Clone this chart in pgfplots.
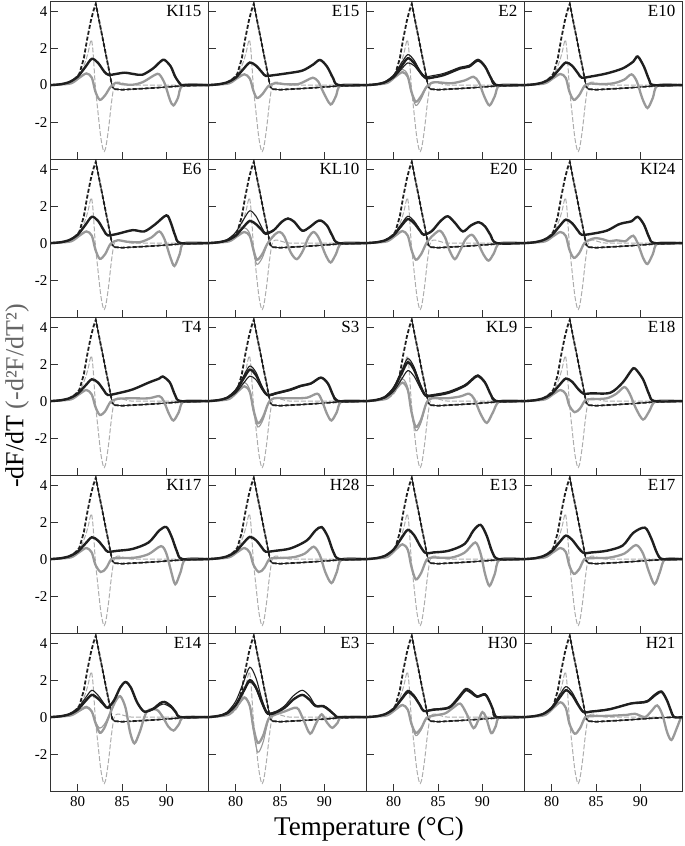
\documentclass[border=0pt]{standalone}
\usepackage{fontspec}
\setmainfont{Liberation Serif}
\usepackage{pgfplots}
\usepackage{pgfplotstable}
\pgfplotsset{compat=1.18}
\usepgfplotslibrary{groupplots}
\usetikzlibrary{calc}

% reference melt curve (dashed) and its second derivative, same in every panel
\pgfplotstableread{
x y
77 0
78 0.04
78.5 0.08
79 0.14
79.5 0.27
80 0.48
80.2 0.62
80.7 1.45
81.1 2.55
81.5 3.5
81.8 4.05
82.05 4.4
82.5 3.3
83 2.1
83.5 0.9
83.9 -0.1
84.2 -0.22
85 -0.25
87 -0.2
89 -0.14
91 -0.07
93 -0.02
94.8 0
}\refF
\pgfplotstableread{
x y
82.05 4.4
82.5 3.3
83 2.1
83.5 0.9
83.9 -0.1
84.2 -0.22
85 -0.25
87 -0.2
89 -0.14
91 -0.07
93 -0.02
94.8 0
}\refFdrop
\pgfplotstableread{
x y
77 0
78 0.03
79 0.1
79.5 0.2
80 0.38
80.5 0.8
80.9 1.3
81.2 1.8
81.4 2.25
81.55 2.45
81.7 2.0
81.85 1.0
82.0 -0.1
82.3 -1.5
82.6 -2.8
82.85 -3.45
83.0 -3.6
83.2 -3.3
83.5 -2.3
83.8 -1.0
84.1 -0.05
84.4 0.15
84.8 0.15
85.5 0.05
86.5 0
94.8 0
}\refD

\newcommand{\refs}{%
  \addplot[refG] table {\refD};
  \addplot[refB] table {\refF};
  \addplot[refBthin] table {\refFdrop};
}
\newcommand{\lab}[1]{\node[anchor=north east, inner sep=2pt,
  font=\fontsize{17}{17}\selectfont] at (rel axis cs:0.965,0.985) {#1};}

\begin{document}
\begin{tikzpicture}
\pgfplotsset{
  blk/.style={black!88, line width=2.4pt, smooth},
  blkthin/.style={black!88, line width=1.1pt, smooth},
  gry/.style={black!40, line width=2.3pt, smooth},
  grythin/.style={black!40, line width=1.1pt, smooth},
  refB/.style={black!88, line width=1.8pt, dash pattern=on 4pt off 2pt},
  refBthin/.style={black!88, line width=0.9pt},
  refG/.style={black!32, line width=1.0pt, dash pattern=on 5pt off 2pt, smooth},
}
\begin{groupplot}[
  group style={group size=4 by 5, horizontal sep=0pt, vertical sep=0pt,
    xticklabels at=edge bottom, yticklabels at=edge left},
  width=158pt, height=158pt, scale only axis,
  xmin=77, xmax=94.8, ymin=-4, ymax=4.55,
  xtick={80,85,90}, ytick={-2,0,2,4},
  xtick pos=bottom, ytick pos=left, tick align=inside,
  major tick length=7pt,
  axis line style={black!80, line width=1pt},
  tick style={black!80, line width=1pt},
  /pgf/number format/assume math mode=true,
  ticklabel style={font=\fontsize{15}{15}\selectfont},
  xticklabel style={yshift=-2pt},
]
% ---------- row 1
\nextgroupplot
\refs
\addplot[gry] coordinates {(77,0) (78,0.03) (79.3,0.1) (80.2,0.4) (81,0.63) (81.6,0.4) (82,-0.35) (82.5,-0.8) (83.1,-0.55) (83.7,-0.1) (84.3,0.12) (85,0.05) (86.2,0.02) (87.3,0.15) (88.7,0.55) (89.2,0.58) (89.8,0.1) (90.4,-0.8) (90.8,-1.1) (91.3,-0.7) (91.9,0) (94.8,0)};
\addplot[blk] coordinates {(77,0) (78,0.04) (79,0.15) (80,0.45) (80.9,1.0) (81.6,1.42) (82.3,1.2) (83,0.73) (83.5,0.55) (84.3,0.6) (85.3,0.67) (86.3,0.6) (87.3,0.56) (88.5,0.9) (89.4,1.3) (89.8,1.36) (90.5,1.0) (91,0.45) (91.6,0.04) (92,0) (94.8,0)};
\lab{KI15}

\nextgroupplot
\refs
\addplot[gry] coordinates {(77,0) (78,0.03) (79.3,0.1) (80.2,0.38) (81,0.58) (81.6,0.35) (82,-0.3) (82.4,-0.7) (83,-0.5) (83.7,-0.05) (84.5,0.1) (85.5,0.05) (87,0.05) (88,0.25) (88.7,0.4) (89.3,0.2) (89.9,-0.4) (90.7,-1.05) (91.3,-0.6) (91.9,0) (94.8,0)};
\addplot[blk] coordinates {(77,0) (78,0.04) (79,0.14) (80,0.4) (80.9,0.88) (81.6,1.22) (82.3,1.05) (83,0.68) (83.4,0.5) (84.5,0.55) (85.7,0.63) (87.5,0.78) (88.7,1.1) (89.5,1.36) (90.3,1.0) (91,0.36) (91.6,0) (94.8,0)};
\lab{E15}

\nextgroupplot
\refs
\addplot[gry] coordinates {(77,0) (78,0.03) (79.3,0.12) (80.2,0.45) (81,0.7) (81.6,0.45) (82,-0.35) (82.5,-0.9) (83.1,-0.6) (83.7,-0.1) (84.3,0.12) (85,0.15) (86.5,0.1) (88,0.25) (89,0.45) (89.6,0.15) (90.2,-0.6) (90.8,-1.1) (91.4,-0.6) (92,0) (94.8,0)};
\addplot[grythin] coordinates {(77,0) (78,0.03) (79.3,0.14) (80.2,0.55) (81,0.85) (81.6,0.55) (82,-0.4) (82.5,-1.1) (83.1,-0.75) (83.7,-0.1) (84.3,0.15) (85,0.15)};
\addplot[blk] coordinates {(77,0) (78,0.04) (79,0.15) (80,0.47) (80.9,1.03) (81.6,1.45) (82.3,1.2) (83,0.7) (83.6,0.38) (84.5,0.42) (85.7,0.55) (87.5,0.9) (88.5,1.0) (89.5,1.33) (90.3,1.0) (91,0.35) (91.6,0) (94.8,0)};
\addplot[blkthin] coordinates {(77,0) (78,0.05) (79,0.17) (80,0.55) (80.9,1.2) (81.6,1.65) (82.3,1.35) (83,0.75) (83.6,0.47) (84.5,0.52) (85.7,0.64) (87.5,0.97) (88.5,1.07) (89.5,1.4) (90.3,1.05) (91,0.38) (91.6,0)};
\addplot[blkthin] coordinates {(77,0) (78,0.04) (79,0.13) (80,0.4) (80.9,0.88) (81.6,1.2) (82.3,1.05) (83,0.65) (83.6,0.38) (84.5,0.4)};
\lab{E2}

\nextgroupplot
\refs
\addplot[gry] coordinates {(77,0) (78,0.03) (79.3,0.1) (80.2,0.38) (81,0.6) (81.6,0.38) (82,-0.35) (82.5,-0.8) (83.1,-0.55) (83.7,-0.05) (84.3,0.08) (85.5,0.05) (87,0.1) (88.2,0.3) (89,0.58) (89.6,0.2) (90.2,-0.7) (90.8,-1.24) (91.4,-0.7) (92,0) (94.8,0)};
\addplot[blk] coordinates {(77,0) (78,0.04) (79,0.14) (80,0.4) (80.9,0.88) (81.6,1.22) (82.3,1.05) (83,0.62) (83.4,0.4) (84.5,0.47) (86.2,0.63) (88,0.9) (89.2,1.27) (89.7,1.55) (90.4,1.0) (91,0.27) (91.5,0) (94.8,0)};
\lab{E10}

% ---------- row 2
\nextgroupplot
\refs
\addplot[gry] coordinates {(77,0) (78,0.03) (79.3,0.1) (80.2,0.4) (81,0.63) (81.6,0.4) (82,-0.35) (82.5,-0.85) (83.1,-0.6) (83.7,-0.05) (84.5,0.15) (85.5,0.08) (87,0.05) (88.3,0.3) (89.2,0.63) (89.8,0.2) (90.4,-0.7) (90.9,-1.24) (91.5,-0.6) (92,0) (94.8,0)};
\addplot[blk] coordinates {(77,0) (78,0.04) (79,0.15) (80,0.45) (80.9,1.0) (81.6,1.42) (82.3,1.2) (83,0.65) (83.4,0.42) (84.5,0.5) (86.2,0.7) (87.5,0.63) (88.7,1.0) (90,1.5) (90.5,1.1) (91,0.4) (91.6,0) (94.8,0)};
\lab{E6}

\nextgroupplot
\refs
\addplot[gry] coordinates {(77,0) (78,0.03) (79.3,0.1) (80.2,0.38) (81,0.6) (81.6,0.38) (82,-0.35) (82.4,-0.9) (83,-0.6) (83.5,-0.1) (83.9,0.18) (84.5,0.5) (85,0.6) (85.5,0.35) (86.2,-0.5) (86.9,-0.87) (87.6,-0.4) (88.2,0.3) (88.8,0.6) (89.4,0.25) (90.1,-0.6) (90.7,-1.05) (91.3,-0.6) (92,0) (94.8,0)};
\addplot[grythin] coordinates {(77,0) (78,0.03) (79.3,0.14) (80.2,0.55) (81,0.82) (81.6,0.5) (82,-0.45) (82.4,-1.15) (83,-0.8) (83.5,-0.15) (83.9,0.18) (84.5,0.5)};
\addplot[blk] coordinates {(77,0) (78,0.04) (79,0.14) (80,0.4) (80.9,0.88) (81.6,1.2) (82.3,1.02) (83,0.68) (83.4,0.5) (84.3,0.7) (85.2,1.15) (85.9,1.33) (86.6,1.15) (87.5,0.67) (88.3,0.85) (89.1,1.15) (89.6,1.22) (90.3,0.95) (90.9,0.4) (91.6,0) (94.8,0)};
\addplot[blkthin] coordinates {(77,0) (78,0.05) (79,0.18) (80,0.58) (80.9,1.28) (81.6,1.75) (82.3,1.45) (83,0.8) (83.4,0.55) (84.3,0.72)};
\lab{KL10}

\nextgroupplot
\refs
\addplot[gry] coordinates {(77,0) (78,0.03) (79.3,0.1) (80.2,0.4) (81,0.65) (81.6,0.4) (82,-0.35) (82.5,-0.9) (83.1,-0.6) (83.7,0.0) (84.4,0.4) (85.2,0.67) (85.8,0.3) (86.3,-0.4) (86.9,-0.87) (87.5,-0.4) (88.1,0.2) (88.8,0.45) (89.4,0.1) (90.1,-0.6) (90.7,-0.95) (91.3,-0.55) (92,0) (94.8,0)};
\addplot[blk] coordinates {(77,0) (78,0.04) (79,0.14) (80,0.43) (80.9,0.95) (81.6,1.3) (82.3,1.08) (83,0.65) (83.4,0.45) (84.3,0.65) (85.3,1.2) (86.1,1.45) (86.9,1.1) (87.8,0.63) (88.7,0.95) (89.6,1.13) (90.3,0.9) (90.9,0.45) (91.6,0) (94.8,0)};
\addplot[blkthin] coordinates {(77,0) (78,0.04) (79,0.16) (80,0.48) (80.9,1.05) (81.6,1.45) (82.3,1.2) (83,0.7) (83.4,0.48) (84,0.55)};
\lab{E20}

\nextgroupplot
\refs
\addplot[gry] coordinates {(77,0) (78,0.03) (79.3,0.1) (80.2,0.38) (81,0.6) (81.6,0.38) (82,-0.35) (82.5,-0.8) (83.1,-0.55) (83.7,0.0) (84.4,0.2) (85,0.27) (85.8,0.2) (86.5,0.1) (87.3,0.15) (88.3,0.1) (88.7,0.25) (89.2,0.4) (89.7,0.0) (90.3,-0.8) (90.8,-1.13) (91.4,-0.6) (92,0) (94.8,0)};
\addplot[blk] coordinates {(77,0) (78,0.04) (79,0.15) (80,0.42) (80.9,0.92) (81.6,1.27) (82.3,1.08) (83,0.65) (83.4,0.45) (84.5,0.5) (86.2,0.67) (87.5,1.0) (88.2,1.1) (89,1.18) (89.7,1.42) (90.4,1.0) (91,0.3) (91.6,0) (94.8,0)};
\lab{KI24}

% ---------- row 3
\nextgroupplot
\refs
\addplot[gry] coordinates {(77,0) (78,0.03) (79.3,0.1) (80.2,0.38) (81,0.6) (81.6,0.35) (82,-0.3) (82.5,-0.75) (83.1,-0.55) (83.7,-0.05) (84.5,0.12) (86,0.15) (88,0.15) (89.2,0.27) (89.7,0.0) (90.3,-0.7) (90.8,-1.05) (91.4,-0.6) (92,0) (94.8,0)};
\addplot[blk] coordinates {(77,0) (78,0.04) (79,0.14) (80,0.4) (80.9,0.85) (81.6,1.18) (82.3,1.0) (83,0.55) (83.4,0.33) (84.5,0.42) (86.2,0.63) (88,1.0) (89.2,1.22) (89.6,1.33) (90.4,1.0) (91,0.3) (91.6,0) (94.8,0)};
\lab{T4}

\nextgroupplot
\refs
\addplot[gry] coordinates {(77,0) (78,0.03) (79.3,0.12) (80.2,0.5) (81,0.8) (81.6,0.5) (82,-0.45) (82.5,-1.2) (83.1,-0.85) (83.7,-0.1) (84.3,0.15) (86,0.15) (88,0.18) (89.2,0.4) (89.7,0.05) (90.3,-0.7) (90.8,-1.05) (91.4,-0.6) (92,0) (94.8,0)};
\addplot[grythin] coordinates {(77,0) (78,0.04) (79.3,0.15) (80.2,0.62) (81,1.0) (81.6,0.6) (82,-0.55) (82.5,-1.4) (83.1,-1.0) (83.7,-0.1) (84.3,0.15)};
\addplot[blk] coordinates {(77,0) (78,0.05) (79,0.17) (80,0.55) (80.9,1.22) (81.6,1.7) (82.3,1.4) (83,0.7) (83.6,0.33) (84.5,0.42) (86.2,0.63) (87.3,0.82) (88.5,0.96) (89.6,1.27) (90.4,0.95) (91,0.3) (91.6,0) (94.8,0)};
\addplot[blkthin] coordinates {(77,0) (78,0.05) (79,0.19) (80,0.62) (80.9,1.36) (81.6,1.9) (82.3,1.55) (83,0.75) (83.6,0.3) (84.5,0.38) (86.2,0.58) (87.3,0.78) (88.5,0.93) (89.6,1.25) (90.4,0.93) (91,0.3) (91.6,0)};
\addplot[blkthin] coordinates {(77,0) (78,0.04) (79,0.14) (80,0.44) (80.9,0.97) (81.6,1.35) (82.3,1.15) (83,0.6) (83.6,0.28) (84.5,0.38)};
\lab{S3}

\nextgroupplot
\refs
\addplot[gry] coordinates {(77,0) (78,0.04) (79.3,0.15) (80.2,0.62) (81,1.0) (81.6,0.6) (82,-0.55) (82.5,-1.4) (83.1,-1.0) (83.7,-0.1) (84.3,0.15) (86,0.15) (87.5,0.25) (88.5,0.4) (89.1,0.1) (89.8,-0.7) (90.5,-1.18) (91.2,-0.6) (92,0) (94.8,0)};
\addplot[grythin] coordinates {(77,0) (78,0.05) (79.3,0.18) (80.2,0.75) (81,1.2) (81.6,0.72) (82,-0.6) (82.5,-1.6) (83.1,-1.15) (83.7,-0.1) (84.3,0.15)};
\addplot[blk] coordinates {(77,0) (78,0.06) (79,0.21) (80,0.68) (80.9,1.5) (81.6,2.1) (82.3,1.7) (83,0.85) (83.6,0.3) (84.5,0.3) (86.2,0.45) (88,0.82) (88.9,1.18) (89.5,1.36) (90.3,1.0) (91,0.3) (91.6,0) (94.8,0)};
\addplot[blkthin] coordinates {(77,0) (78,0.07) (79,0.23) (80,0.75) (80.9,1.65) (81.6,2.3) (82.3,1.85) (83,0.9) (83.6,0.35) (84.5,0.36) (86.2,0.52) (88,0.88) (88.9,1.24) (89.5,1.42) (90.3,1.05) (91,0.3) (91.6,0)};
\addplot[blkthin] coordinates {(77,0) (78,0.05) (79,0.17) (80,0.53) (80.9,1.18) (81.6,1.65) (82.3,1.35) (83,0.7) (83.6,0.27) (84.5,0.28)};
\lab{KL9}

\nextgroupplot
\refs
\addplot[gry] coordinates {(77,0) (78,0.03) (79.3,0.1) (80.2,0.38) (81,0.6) (81.6,0.38) (82,-0.25) (82.6,-0.6) (83.2,-0.4) (83.8,0.05) (84.5,0.1) (86.2,0.15) (87.3,0.4) (88.2,0.76) (88.8,0.4) (89.5,-0.4) (90.3,-1.0) (91,-0.55) (91.8,0) (94.8,0)};
\addplot[blk] coordinates {(77,0) (78,0.04) (79,0.14) (80,0.4) (80.9,0.88) (81.6,1.22) (82.3,1.05) (83,0.65) (83.6,0.4) (84.5,0.42) (86.6,0.45) (88,1.0) (89,1.67) (89.4,1.76) (90.3,1.18) (91,0.35) (91.6,0) (94.8,0)};
\lab{E18}

% ---------- row 4
\nextgroupplot
\refs
\addplot[gry] coordinates {(77,0) (78,0.03) (79.3,0.1) (80.2,0.38) (81,0.6) (81.6,0.35) (82,-0.3) (82.6,-0.7) (83.2,-0.5) (83.8,0.0) (84.5,0.05) (86.5,0.08) (88,0.27) (89.4,0.7) (90,0.3) (90.5,-0.6) (91,-1.36) (91.6,-0.7) (92.2,0) (94.8,0)};
\addplot[blk] coordinates {(77,0) (78,0.04) (79,0.14) (80,0.4) (80.9,0.85) (81.6,1.18) (82.3,1.0) (83,0.6) (83.4,0.4) (84.5,0.45) (86.2,0.55) (88,0.9) (89.2,1.55) (90,1.73) (90.6,1.2) (91.2,0.4) (91.8,0) (94.8,0)};
\lab{KI17}

\nextgroupplot
\refs
\addplot[gry] coordinates {(77,0) (78,0.03) (79.3,0.1) (80.2,0.38) (81,0.6) (81.6,0.35) (82,-0.3) (82.6,-0.7) (83.2,-0.5) (83.8,0.0) (84.5,0.05) (86.5,0.1) (87.8,0.3) (88.8,0.67) (89.5,0.2) (90.1,-0.7) (90.8,-1.3) (91.4,-0.7) (92,0) (94.8,0)};
\addplot[blk] coordinates {(77,0) (78,0.04) (79,0.14) (80,0.4) (80.9,0.88) (81.6,1.2) (82.3,1.02) (83,0.6) (83.4,0.4) (84.5,0.45) (86.2,0.58) (88,1.0) (89,1.55) (89.7,1.73) (90.4,1.2) (91,0.4) (91.7,0) (94.8,0)};
\lab{H28}

\nextgroupplot
\refs
\addplot[gry] coordinates {(77,0) (78,0.03) (79.3,0.12) (80.2,0.5) (81,0.8) (81.6,0.5) (82,-0.4) (82.5,-1.1) (83.1,-0.75) (83.7,-0.05) (84.3,0.08) (86.5,0.08) (88,0.35) (89.2,0.9) (89.8,0.3) (90.3,-0.8) (90.8,-1.45) (91.4,-0.8) (92,0) (94.8,0)};
\addplot[blk] coordinates {(77,0) (78,0.05) (79,0.17) (80,0.52) (80.9,1.15) (81.6,1.58) (82.3,1.3) (83,0.7) (83.6,0.33) (84.5,0.36) (86.2,0.45) (88,0.82) (89,1.55) (89.8,1.85) (90.5,1.25) (91.1,0.4) (91.8,0) (94.8,0)};
\lab{E13}

\nextgroupplot
\refs
\addplot[gry] coordinates {(77,0) (78,0.03) (79.3,0.1) (80.2,0.38) (81,0.6) (81.6,0.38) (82,-0.35) (82.5,-0.8) (83.1,-0.55) (83.7,0.0) (84.5,0.05) (86.5,0.08) (88.2,0.3) (89.5,0.76) (90.3,0.3) (90.9,-0.6) (91.6,-1.36) (92.2,-0.7) (92.8,0) (94.8,0)};
\addplot[blk] coordinates {(77,0) (78,0.04) (79,0.15) (80,0.42) (80.9,0.92) (81.6,1.27) (82.3,1.05) (83,0.62) (83.6,0.33) (84.5,0.36) (86.2,0.45) (88,0.73) (89.2,1.42) (90.5,1.7) (91.2,1.15) (91.9,0.3) (92.5,0) (94.8,0)};
\lab{E17}

% ---------- row 5
\nextgroupplot
\refs
\addplot[gry] coordinates {(77,0) (78,0.03) (79.3,0.1) (80.2,0.35) (81,0.55) (81.6,0.3) (82,-0.3) (82.5,-0.85) (83,-0.6) (83.5,0.0) (84.2,0.8) (84.8,1.13) (85.4,0.5) (85.9,-0.8) (86.4,-1.42) (87,-0.8) (87.8,0.3) (88.9,0.4) (89.6,0.0) (90.2,-0.5) (90.8,-0.73) (91.4,-0.4) (92,0) (94.8,0)};
\addplot[grythin] coordinates {(77,0) (78,0.03) (79.3,0.1) (80.2,0.32) (81,0.5) (81.6,0.28) (82,-0.25) (82.5,-0.6) (83,-0.4) (83.5,0.05) (84.2,0.8)};
\addplot[blk] coordinates {(77,0) (78,0.04) (79,0.14) (80,0.4) (80.9,0.88) (81.6,1.2) (82.3,1.0) (83,0.65) (83.4,0.5) (84.1,0.9) (84.8,1.6) (85.4,1.9) (86,1.6) (86.7,0.8) (87.5,0.3) (88.5,0.45) (89.3,0.75) (89.8,0.82) (90.5,0.6) (91.1,0.25) (91.6,0) (94.8,0)};
\addplot[blkthin] coordinates {(77,0) (78,0.05) (79,0.16) (80,0.48) (80.9,1.05) (81.6,1.45) (82.3,1.18) (83,0.72) (83.4,0.52) (84.1,0.9) (84.8,1.6) (85.4,1.88) (86,1.58) (86.7,0.78) (87.5,0.3) (88.5,0.4) (89.3,0.65) (89.8,0.7) (90.5,0.52) (91.1,0.2) (91.6,0)};
\lab{E14}

\nextgroupplot
\refs
\addplot[gry] coordinates {(77,0) (78,0.04) (79.3,0.15) (80.2,0.62) (81,1.05) (81.6,0.6) (82,-0.55) (82.5,-1.4) (83.1,-1.0) (83.7,-0.1) (84.3,0.1) (85.5,0.3) (86.9,0.5) (87.6,-0.1) (88.4,-0.9) (89.1,-0.3) (89.7,0.15) (90.3,-0.3) (90.9,-0.58) (91.5,-0.3) (92,0) (94.8,0)};
\addplot[grythin] coordinates {(77,0) (78,0.04) (79.3,0.16) (80.2,0.68) (81,1.1) (81.6,0.6) (82,-0.75) (82.5,-1.9) (83.1,-1.35) (83.7,-0.15) (84.3,0.1)};
\addplot[blk] coordinates {(77,0) (78,0.06) (79,0.2) (80,0.65) (80.9,1.42) (81.6,2.0) (82.3,1.6) (83,0.75) (83.6,0.2) (84.5,0.25) (85.5,0.5) (86.5,0.95) (87.5,1.2) (88.3,0.95) (89,0.6) (89.9,0.58) (90.6,0.35) (91.2,0.1) (91.6,0) (94.8,0)};
\addplot[blkthin] coordinates {(77,0) (78,0.07) (79,0.26) (80,0.85) (80.9,1.9) (81.6,2.7) (82.3,2.1) (83,0.9) (83.6,0.25) (84.5,0.3) (85.5,0.6) (86.5,1.15) (87.5,1.45) (88.3,1.15) (89,0.65) (89.9,0.63) (90.6,0.4) (91.2,0.1) (91.6,0)};
\addplot[blkthin] coordinates {(77,0) (78,0.05) (79,0.19) (80,0.62) (80.9,1.35) (81.6,1.9) (82.3,1.52) (83,0.7) (83.6,0.15) (84.5,0.2)};
\lab{E3}

\nextgroupplot
\refs
\addplot[gry] coordinates {(77,0) (78,0.03) (79.3,0.1) (80.2,0.4) (81,0.65) (81.6,0.4) (82,-0.35) (82.5,-0.85) (83.1,-0.6) (83.7,-0.05) (84.5,0.08) (85.8,0.2) (86.7,0.5) (87.5,0.73) (88.2,0.2) (89,-0.6) (89.6,-0.1) (90,0.27) (90.4,0.0) (91,-0.87) (91.5,-0.5) (92,0) (94.8,0)};
\addplot[grythin] coordinates {(77,0) (78,0.03) (79.3,0.1) (80.2,0.42) (81,0.68) (81.6,0.4) (82,-0.4) (82.5,-1.0) (83.1,-0.7) (83.7,-0.05) (84.5,0.08)};
\addplot[blk] coordinates {(77,0) (78,0.04) (79,0.15) (80,0.44) (80.9,0.97) (81.6,1.35) (82.3,1.12) (83,0.62) (83.4,0.33) (84.5,0.4) (86.2,0.5) (87.2,0.95) (88.1,1.45) (88.8,1.3) (89.4,1.1) (90.3,1.22) (90.8,0.85) (91.2,0.4) (91.6,0) (94.8,0)};
\addplot[blkthin] coordinates {(77,0) (78,0.05) (79,0.16) (80,0.47) (80.9,1.05) (81.6,1.45) (82.3,1.2) (83,0.65) (83.4,0.35) (84.5,0.43) (86.2,0.55) (87.2,1.05) (88.1,1.55) (88.8,1.4) (89.4,1.15) (90.3,1.27) (90.8,0.9) (91.2,0.42) (91.6,0)};
\lab{H30}

\nextgroupplot
\refs
\addplot[gry] coordinates {(77,0) (78,0.03) (79.3,0.12) (80.2,0.5) (81,0.8) (81.6,0.5) (82,-0.35) (82.6,-0.9) (83.2,-0.6) (83.8,0.0) (84.5,0.05) (86.5,0.07) (88.5,0.12) (89.4,0.18) (90.5,0.0) (91.2,0.3) (91.9,0.63) (92.5,0.1) (93,-0.8) (93.5,-1.24) (94.1,-0.6) (94.6,0) (94.8,0)};
\addplot[blk] coordinates {(77,0) (78,0.05) (79,0.16) (80,0.48) (80.9,1.05) (81.6,1.45) (82.3,1.2) (83,0.65) (83.6,0.27) (84.5,0.3) (86.5,0.42) (88.9,0.73) (90,0.78) (90.8,0.85) (91.7,1.2) (92.4,1.36) (93,0.9) (93.4,0.4) (93.8,0) (94.8,0)};
\addplot[blkthin] coordinates {(77,0) (78,0.05) (79,0.18) (80,0.55) (80.9,1.2) (81.6,1.65) (82.3,1.35) (83,0.72) (83.6,0.3) (84.5,0.32) (86.5,0.44) (88.9,0.75) (90,0.82) (90.8,0.9) (91.7,1.27) (92.4,1.42) (93,0.95) (93.4,0.4) (93.8,0)};
\lab{H21}
\end{groupplot}

\node[rotate=90, font=\fontsize{26}{26}\selectfont]
  at ($(group c1r3.west)+(-34pt,0)$) {-dF/dT {\color{black!60}(-d²F/dT²)}};
\node[font=\fontsize{27}{27}\selectfont]
  at ($(group c2r5.south east)+(2pt,-38pt)$) {Temperature (°C)};

\pgfresetboundingbox
\path[use as bounding box] ($(group c1r1.north west)+(-51pt,1pt)$)
  rectangle ($(group c4r5.south east)+(2pt,-55pt)$);
\end{tikzpicture}
\end{document}
